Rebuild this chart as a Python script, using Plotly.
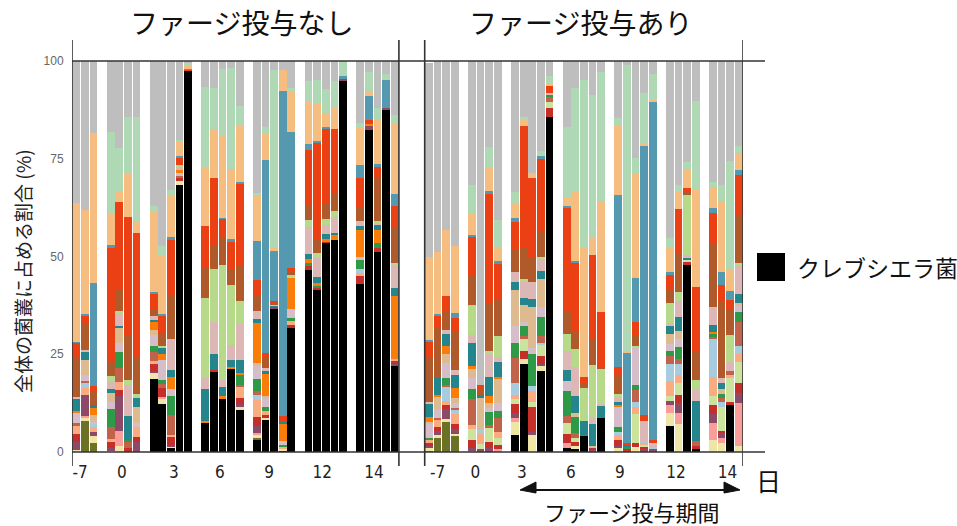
import plotly.graph_objects as go

# ---------------- categories ----------------
DAY_LABELS = ["-7", "0", "3", "6", "9", "12", "14"]
LEFT_COUNTS = [3, 4, 5, 5, 5, 5, 5]    # samples per day, no phage
RIGHT_COUNTS = [4, 4, 5, 5, 5, 4, 4]   # samples per day, phage given
PANEL_TITLES = ["ファージ投与なし", "ファージ投与あり"]
LEGEND_LABEL = "クレブシエラ菌"
Y_TITLE = "全体の菌叢に占める割合 (%)"
X_UNIT = "日"
PERIOD_LABEL = "ファージ投与期間"
Y_TICKS = [0, 25, 50, 75, 100]

# ---------------- series (% of community), bottom -> top ----------------
# Klebsiella (black)
blk_L = [0, 0, 0, 0, 0, 0, 0, 18.7, 12.2, 0.9, 68.3, 97.5, 7.5, 20.5, 13.7, 21.2, 10.7, 3.2, 8.2, 36.5, 0.5, 31.8, 46.5, 41.4, 53.6, 54.2, 95.1, 43.0, 82.4, 51.2, 87.5, 22.2]
blk_R = [0, 0, 0, 0, 0, 0, 0, 0, 4.3, 22.5, 0, 20.8, 85.8, 1.1, 0.7, 4.1, 0, 8.8, 0, 0, 0, 0, 0, 6.7, 0, 48.0, 0.7, 0, 0, 12.2, 0]
olv_L = [0, 8.0, 2.2, 0, 0, 0, 0, 0, 0, 0, 0, 0, 0, 0, 0, 0, 0, 0.3, 0, 0, 0, 0, 0, 0, 0, 0, 0, 0, 0, 0, 0, 0]
olv_R = [0.4, 3.7, 7.9, 4.3, 0, 0, 0, 0, 0, 0, 0, 0, 0, 0, 0, 0, 0, 0, 0, 0, 0, 0, 0, 0, 0, 0, 0, 0, 0, 0, 0]
pyl_L = [0.5, 0.8, 2.0, 0.3, 1.6, 0, 0, 1.5, 1.5, 0.6, 1.0, 0, 0, 0, 0, 0, 0.7, 0.9, 0.6, 0, 0.3, 0, 0, 0, 0, 0, 0, 0, 0, 0, 0, 0]
pyl_R = [0.5, 0.7, 0.5, 0.4, 0, 0, 0, 0, 3.5, 1.3, 4.3, 1.4, 0, 0, 0.9, 0, 0, 0, 0.9, 0, 1.4, 0, 0, 3.2, 7.2, 0, 0, 3.0, 2.2, 0, 1.6]
pnk_L = [0, 0.4, 0, 0, 3.8, 0, 0, 0, 0.4, 0, 0, 0, 0, 0, 0, 0, 0, 0.4, 0, 0, 0, 0, 0, 0, 0, 0, 0, 0, 0, 0, 0, 0]
pnk_R = [0, 0, 0, 0, 0.4, 0, 0, 0.7, 1.0, 0, 0, 0, 0, 1.1, 0, 0, 0, 0, 0, 0, 0, 0, 0, 2.0, 2.9, 0, 0, 4.5, 1.5, 0, 10.9]
plm_L = [2.1, 5.4, 0.8, 0.6, 8.8, 0, 2.6, 0.6, 0, 0.4, 0, 0, 0, 0, 0, 0, 1.0, 1.8, 0, 0.6, 0, 0, 0, 0, 0, 0, 0.4, 0, 1.2, 0, 0.4, 0.4]
plm_R = [0.6, 0.9, 2.6, 1.3, 0.5, 0.7, 0.9, 0, 1.3, 0, 0.9, 0.4, 0, 0, 0, 0, 0.6, 0, 0.7, 0.5, 0, 0.8, 0.8, 1.2, 2.5, 0, 0, 2.2, 1.1, 0, 2.6]
red_L = [2.1, 0, 0, 1.7, 1.7, 1.1, 1.3, 1.7, 2.2, 2.1, 0.7, 0, 0, 0.5, 0, 0, 1.3, 2.4, 0.7, 0, 0, 0.7, 1.1, 0.7, 0.3, 0, 0, 2.1, 0, 1.1, 0, 0.9]
red_R = [0.9, 1.0, 1.0, 1.2, 2.2, 0, 1.7, 1.1, 2.3, 2.0, 6.4, 1.9, 2.1, 2.3, 0.9, 0, 0.6, 0, 1.5, 0.5, 1.0, 0.6, 0, 0, 2.0, 0.5, 0.8, 2.2, 0.6, 0.5, 2.5]
yg2_L = [0] * 32
yg2_R = [0, 0, 0, 0, 2.8, 1.4, 3.6, 1.9, 1.2, 3.0, 1.3, 3.0, 1.7, 2.8, 1.2, 0, 0, 0, 0, 0, 7.3, 0.4, 0, 1.3, 3.0, 0.7, 0, 2.3, 6.2, 6.1, 5.3]
sal_L = [2.2, 1.7, 1.4, 0.7, 2.1, 0, 2.4, 0.7, 0, 0.4, 0, 0, 0, 0, 0, 0, 2.8, 4.3, 1.0, 0, 0.5, 1.1, 0, 0, 0, 0, 0, 0.8, 0, 0, 0, 0.4]
sal_R = [0.7, 2.0, 1.1, 2.6, 1.0, 2.6, 0, 1.5, 1.0, 0, 2.6, 0, 0, 0, 0, 0, 0, 0, 1.2, 0, 1.9, 0.6, 0, 3.8, 2.1, 0, 0, 5.1, 0, 0.9, 2.1]
lbl_L = [0, 1.4, 0.7, 0, 0, 0, 0, 0, 0, 0, 0, 0, 0, 0, 0, 0, 0, 1.3, 0, 0, 0, 0, 0, 0, 0, 0, 0, 0.9, 0, 0, 0, 0]
lbl_R = [0, 0, 3.6, 1.0, 0, 0.9, 0, 0, 3.0, 0, 1.3, 0.4, 0, 0, 0, 0, 0, 0, 0.7, 0, 1.3, 0.4, 0.4, 4.3, 2.7, 0, 0, 9.5, 1.3, 0, 2.1]
rst_L = [0.4, 0.5, 0, 3.2, 3.4, 1.5, 0, 2.4, 1.2, 5.0, 0.6, 0, 0, 0, 0, 0, 0.6, 1.0, 0, 0, 0, 0, 0, 0, 0, 0, 0, 0, 0, 0, 0, 0]
rst_R = [0, 0.4, 0.4, 0.4, 6.7, 0, 0.7, 3.4, 6.4, 0.9, 0, 1.7, 1.4, 1.9, 1.2, 0, 0, 0, 0, 0, 3.0, 0, 0, 2.1, 1.4, 0, 1.4, 0.8, 1.0, 1.0, 6.1]
grn_L = [0, 0, 0, 4.5, 4.3, 0.4, 0, 1.6, 0.9, 4.9, 0, 0, 0, 0, 0, 0, 2.6, 3.1, 1.1, 0, 0.4, 0.8, 0.7, 0.4, 0, 0, 0, 2.3, 0, 1.2, 0, 0]
grn_R = [0.6, 0, 1.9, 0, 2.5, 0, 3.4, 1.9, 4.0, 2.6, 8.2, 4.9, 0.2, 6.4, 4.1, 0.2, 0, 0, 1.5, 0.4, 1.2, 0, 0, 1.3, 3.0, 0, 0, 0.5, 0.9, 0, 2.5]
mau_L = [2.8, 1.4, 0.6, 1.9, 2.3, 0, 1.0, 2.6, 5.1, 1.7, 0.7, 0, 0, 0, 0, 0, 0, 3.3, 2.3, 0, 1.1, 2.2, 0, 0, 0, 0, 0, 0.9, 0, 0, 0, 0]
mau_R = [3.6, 2.1, 3.7, 1.4, 2.7, 0, 1.0, 2.0, 4.3, 1.0, 1.6, 2.6, 0, 2.6, 0, 0, 0, 0, 5.1, 0, 9.4, 0, 0, 1.7, 2.1, 0, 0, 0, 0, 0, 1.7]
tan_L = [0, 4.0, 1.7, 2.3, 3.6, 0, 4.3, 1.5, 0, 0, 0, 0, 0, 0, 0, 0, 0, 0.7, 0.3, 0, 0, 0, 0, 0, 0, 0, 0, 0, 0, 0, 0, 0]
tan_R = [0.4, 3.4, 2.3, 1.3, 2.4, 8.2, 1.3, 6.4, 9.1, 4.3, 10.6, 7.2, 0, 0, 0.9, 0, 0.4, 0, 0, 0, 0, 0, 0, 2.6, 2.1, 0, 0, 0, 1.2, 0, 0.7]
org_L = [0.3, 0, 1.8, 0, 0, 0, 0, 2.1, 1.5, 3.3, 0.7, 0, 0.5, 0, 0.5, 0.6, 0.6, 10.2, 5.8, 0, 4.6, 8.0, 1.1, 0.6, 0.5, 1.3, 0, 6.8, 0.4, 3.4, 0, 16.0]
org_R = [1.2, 0.4, 2.1, 2.5, 0.8, 0, 1.7, 0.4, 0, 0, 0, 0, 0, 0, 0, 0, 0, 0, 0.3, 0, 0, 0, 0, 0, 0, 0, 0, 0.6, 0, 0, 0]
tea_L = [3.2, 2.1, 0.9, 0.9, 0.7, 6.2, 2.1, 0.4, 1.7, 1.6, 0, 0, 8.1, 4.0, 2.3, 1.7, 3.3, 1.1, 0.6, 0.3, 0.3, 0, 1.2, 1.6, 1.3, 0.4, 0, 1.0, 0, 1.1, 0, 2.0]
tea_R = [3.6, 4.3, 3.1, 3.4, 6.0, 0.7, 5.0, 3.7, 2.2, 1.7, 2.0, 2.1, 0, 2.8, 4.5, 3.6, 5.6, 3.2, 1.0, 0.4, 0, 0, 0, 1.9, 3.6, 0.4, 10.1, 1.7, 1.6, 0, 2.3]
pbg_L = [0.4, 0.4, 0, 2.1, 3.4, 8.0, 0, 1.0, 0, 8.1, 0.9, 0, 2.7, 8.2, 1.9, 3.9, 9.4, 2.1, 1.0, 0, 0, 0, 7.0, 4.8, 2.4, 4.1, 0, 1.3, 0, 0.7, 0, 6.1]
pbg_R = [0.4, 0, 1.0, 1.1, 1.9, 0, 5.7, 1.2, 2.4, 4.2, 4.2, 2.9, 0.6, 4.9, 7.4, 0, 1.4, 0.4, 1.2, 0, 0, 5.1, 1.2, 1.0, 4.1, 0.9, 3.1, 4.7, 1.4, 2.2, 7.6]
ygr_L = [0, 0, 0, 1.2, 0.4, 1.1, 1.1, 0, 0.4, 0, 0.6, 0, 20.7, 13.5, 29.4, 15.3, 5.5, 0, 0, 0.3, 0, 0.7, 1.7, 1.3, 1.4, 1.6, 0, 0, 0, 0.5, 0, 0.3]
ygr_R = [0, 0, 0, 0, 7.7, 0, 0.8, 5.5, 0, 0.7, 0, 0.6, 0, 4.3, 4.5, 8.4, 13.7, 9.0, 0.7, 0, 0.6, 0, 0, 5.1, 2.1, 15.2, 2.3, 0, 0, 7.0, 0.4]
brn_L = [10.0, 6.6, 3.4, 3.5, 5.3, 11.7, 9.3, 1.8, 3.2, 10.8, 0, 0, 7.5, 6.0, 7.3, 3.8, 9.0, 4.1, 2.4, 0.3, 0.3, 0.7, 3.9, 3.7, 4.3, 4.6, 0, 3.2, 0, 10.8, 0, 9.3]
brn_R = [11.4, 12.7, 4.9, 9.9, 7.7, 1.5, 12.0, 9.2, 5.9, 8.3, 6.6, 6.4, 0, 5.5, 4.6, 1.3, 6.3, 0.4, 4.6, 0, 2.8, 0, 0, 3.2, 10.0, 0.8, 7.4, 16.3, 19.6, 6.7, 12.2]
rdo_L = [3.9, 2.3, 1.3, 29.3, 22.6, 30.1, 32.0, 3.9, 4.4, 14.5, 1.7, 0.3, 10.7, 17.5, 4.5, 7.4, 21.1, 3.8, 1.4, 0.6, 1.2, 1.0, 14.0, 24.7, 19.0, 16.4, 0, 7.7, 0.9, 3.0, 0, 5.3]
rdo_R = [4.0, 3.4, 3.8, 3.5, 9.8, 1.2, 28.2, 9.2, 6.8, 31.0, 20.0, 18.6, 1.9, 26.9, 17.6, 1.7, 21.8, 14.1, 2.4, 0.4, 3.4, 1.6, 0.7, 4.1, 11.3, 0.9, 16.3, 7.7, 4.0, 2.3, 10.2]
stl_L = [0.3, 0.3, 26.3, 0.7, 0, 0, 0, 0.3, 0.6, 0.8, 0.4, 0.4, 0, 0, 0.3, 0.5, 0.4, 10.0, 49.3, 12.8, 83.1, 34.8, 1.5, 0.3, 0.3, 0, 0.6, 3.4, 6.2, 0.7, 7.3, 3.0]
stl_R = [0.3, 0.4, 0, 1.3, 0.4, 0, 0.8, 0.8, 1.1, 0, 0, 0.8, 0, 0.4, 0.4, 0, 0, 0, 43.9, 23.2, 11.3, 68.7, 86.5, 0.5, 0, 0, 0, 1.3, 3.4, 2.3, 1.2]
pch_L = [35.6, 26.5, 38.6, 8.3, 2.8, 11.2, 2.8, 20.9, 15.0, 10.7, 3.8, 0.5, 14.9, 12.2, 20.9, 18.1, 14.3, 11.8, 7.0, 0.7, 5.4, 10.5, 10.7, 9.4, 3.5, 5.3, 0, 9.8, 1.2, 11.5, 0.3, 18.2]
pch_R = [21.4, 15.7, 16.9, 17.2, 5.4, 0, 6.1, 3.2, 4.0, 1.3, 1.3, 0, 0.3, 2.3, 17.9, 32.8, 4.7, 28.0, 17.7, 0.3, 26.7, 0.9, 0.4, 6.2, 4.3, 4.7, 24.9, 5.3, 18.3, 5.7, 4.4]
mnt_L = [0, 0, 0, 20.6, 10.9, 14.4, 26.9, 1.2, 2.5, 1.1, 0.5, 0.7, 20.7, 10.6, 17.2, 25.7, 5.1, 0.4, 1.5, 45.6, 0, 0.7, 5.5, 6.2, 6.2, 7.0, 3.9, 0.9, 4.8, 2.7, 1.3, 2.1]
mnt_R = [0, 0, 0, 0, 7.4, 0, 5.2, 7.3, 2.8, 1.0, 0, 1.3, 2.2, 17.9, 26.2, 43.0, 36.2, 33.2, 1.9, 73.3, 4.0, 12.6, 6.7, 2.5, 1.9, 2.0, 22.8, 1.3, 4.0, 27.5, 1.9]
gry_L = [36.2, 38.2, 18.2, 19.2, 22.3, 14.2, 14.2, 37.1, 47.7, 33.0, 20.2, 0.6, 6.7, 7.0, 2.0, 1.8, 11.5, 33.8, 16.8, 2.3, 2.3, 7.0, 5.1, 4.9, 7.2, 5.1, 0, 15.9, 2.9, 12.1, 3.2, 13.8]
gry_R = [49.6, 49.0, 43.2, 47.2, 31.7, 82.8, 21.9, 40.6, 33.4, 14.2, 28.7, 23.0, 3.8, 16.8, 7.0, 4.9, 8.7, 2.9, 14.7, 1.0, 24.7, 8.3, 3.3, 45.3, 31.7, 25.9, 10.2, 30.9, 31.7, 25.6, 21.7]

# stacking order (bottom -> top) with colours
SERIES = [
    ("Klebsiella", blk_L, blk_R, "#000000"),
    ("olive", olv_L, olv_R, "#6B7125"),
    ("pale yellow", pyl_L, pyl_R, "#EFE5A7"),
    ("pink", pnk_L, pnk_R, "#F89D99"),
    ("plum", plm_L, plm_R, "#8D4A68"),
    ("red", red_L, red_R, "#C62F29"),
    ("light yellow-green", yg2_L, yg2_R, "#CCE39E"),
    ("salmon", sal_L, sal_R, "#FAAB80"),
    ("light blue", lbl_L, lbl_R, "#A7CCE0"),
    ("rust", rst_L, rst_R, "#C0634A"),
    ("green", grn_L, grn_R, "#2E9A47"),
    ("mauve", mau_L, mau_R, "#D5BDCA"),
    ("tan", tan_L, tan_R, "#DDBA8F"),
    ("orange", org_L, org_R, "#FA7D0A"),
    ("teal", tea_L, tea_R, "#24858D"),
    ("pink beige", pbg_L, pbg_R, "#DDB7B6"),
    ("yellow-green", ygr_L, ygr_R, "#B6DA8A"),
    ("brown", brn_L, brn_R, "#B05A2C"),
    ("red-orange", rdo_L, rdo_R, "#EB4014"),
    ("steel blue", stl_L, stl_R, "#5499B0"),
    ("peach", pch_L, pch_R, "#F5BE80"),
    ("mint", mnt_L, mnt_R, "#AFD8B4"),
    ("other", gry_L, gry_R, "#BEBEBE"),
]

# ---------------- layout helpers ----------------
W, H = 957, 526
ML, MR, MT, MB = 72, 214, 61, 74
PW, PH = W - ML - MR, H - MT - MB
PANEL_GAP_SLOTS = 3


def px_x(x):
    return (x - ML) / PW


def px_y(y):
    return (H - MB - y) / PH


def slot_positions(counts, start):
    xs, s = [], start
    for c in counts:
        xs.extend(range(s, s + c))
        s += c + 1
    return xs, s - 1  # positions, number of slots used


left_x, left_slots = slot_positions(LEFT_COUNTS, 0)
right_start = left_slots + PANEL_GAP_SLOTS
right_x, right_end = slot_positions(RIGHT_COUNTS, right_start)
right_slots = right_end - right_start
x_max = right_start + right_slots - 0.5

fig = go.Figure()
for name, vl, vr, col in SERIES:
    fig.add_trace(go.Bar(
        x=left_x + right_x, y=list(vl) + list(vr), name=name,
        marker=dict(color=col, line=dict(width=0)),
        showlegend=False, hoverinfo="skip",
    ))

# tick label positions (in slot units), as placed in the reference
tick_left = [0.45, 5.3, 11.35, 16.7, 22.4, 28.6, 34.6]
tick_right = [42.0, 46.4, 51.8, 57.5, 63.2, 69.7, 75.7]

fig.update_layout(
    width=W, height=H,
    margin=dict(l=ML, r=MR, t=MT, b=MB, pad=0),
    barmode="stack", bargap=0.1,
    plot_bgcolor="white", paper_bgcolor="white",
    font=dict(family="Noto Sans CJK JP, Noto Sans, sans-serif", color="#222"),
    xaxis=dict(
        range=[-0.5, x_max], showgrid=False, zeroline=False, showline=False,
        tickmode="array", tickvals=tick_left + tick_right,
        ticktext=DAY_LABELS + DAY_LABELS,
        ticks="outside", ticklen=5, tickcolor="rgba(0,0,0,0)",
        tickfont=dict(family="Liberation Sans Narrow, DejaVu Sans Condensed, Liberation Sans, sans-serif",
                      size=17, color="#222"),
    ),
    yaxis=dict(
        range=[0, 100], showgrid=False, zeroline=False, showline=False,
        tickmode="array", tickvals=Y_TICKS,
        ticks="outside", ticklen=5, tickcolor="rgba(0,0,0,0)",
        tickfont=dict(family="Liberation Sans, Arial, sans-serif", size=12, color="#666"),
    ),
)

line_col = "#333333"
shapes = []
# vertical panel borders
for xv in [-0.5, left_slots - 0.5, right_start - 0.5, x_max]:
    shapes.append(dict(type="line", xref="x", yref="paper", x0=xv, x1=xv,
                       y0=px_y(466), y1=px_y(40), line=dict(color=line_col, width=1.6), layer="above"))
# top and bottom horizontal lines
for yv in [0, 1]:
    shapes.append(dict(type="line", xref="paper", yref="paper", x0=0, x1=px_x(765),
                       y0=yv, y1=yv, line=dict(color=line_col, width=1.6), layer="above"))
# legend square
shapes.append(dict(type="rect", xref="paper", yref="paper",
                   x0=px_x(757), x1=px_x(785), y0=px_y(281), y1=px_y(253),
                   fillcolor="#000000", line=dict(width=0)))
# phage period arrow
ay = 490
shapes.append(dict(type="line", xref="paper", yref="paper", x0=px_x(530), x1=px_x(730),
                   y0=px_y(ay), y1=px_y(ay), line=dict(color="#111", width=1.8)))
tri_l = f"M {px_x(520)} {px_y(ay)} L {px_x(536)} {px_y(ay-8)} L {px_x(536)} {px_y(ay+3)} Z"
tri_r = f"M {px_x(740)} {px_y(ay)} L {px_x(724)} {px_y(ay-8)} L {px_x(724)} {px_y(ay+3)} Z"
for p in (tri_l, tri_r):
    shapes.append(dict(type="path", xref="paper", yref="paper", path=p,
                       fillcolor="#111", line=dict(color="#111", width=1)))
fig.update_layout(shapes=shapes)

ann = [
    dict(text=PANEL_TITLES[0], x=px_x(241), y=px_y(22), size=28),
    dict(text=PANEL_TITLES[1], x=px_x(580), y=px_y(22), size=28),
    dict(text=LEGEND_LABEL, x=px_x(795), y=px_y(267), size=23, xanchor="left"),
    dict(text=X_UNIT, x=px_x(768), y=px_y(480), size=25),
    dict(text=PERIOD_LABEL, x=px_x(632), y=px_y(511), size=22),
]
annotations = []
for a in ann:
    annotations.append(dict(
        text=a["text"], x=a["x"], y=a["y"], xref="paper", yref="paper",
        xanchor=a.get("xanchor", "center"), yanchor="middle", showarrow=False,
        font=dict(family="Noto Sans CJK JP", size=a["size"], color="#111"),
    ))
annotations.append(dict(
    text=Y_TITLE, x=px_x(22), y=px_y(271), xref="paper", yref="paper",
    xanchor="center", yanchor="middle", showarrow=False, textangle=-90,
    font=dict(family="Noto Sans CJK JP", size=19, color="#222"),
))
fig.update_layout(annotations=annotations)

fig.write_html("out.html", config={"displayModeBar": False},
               post_script="document.body.style.margin='0';document.body.style.padding='0';")
